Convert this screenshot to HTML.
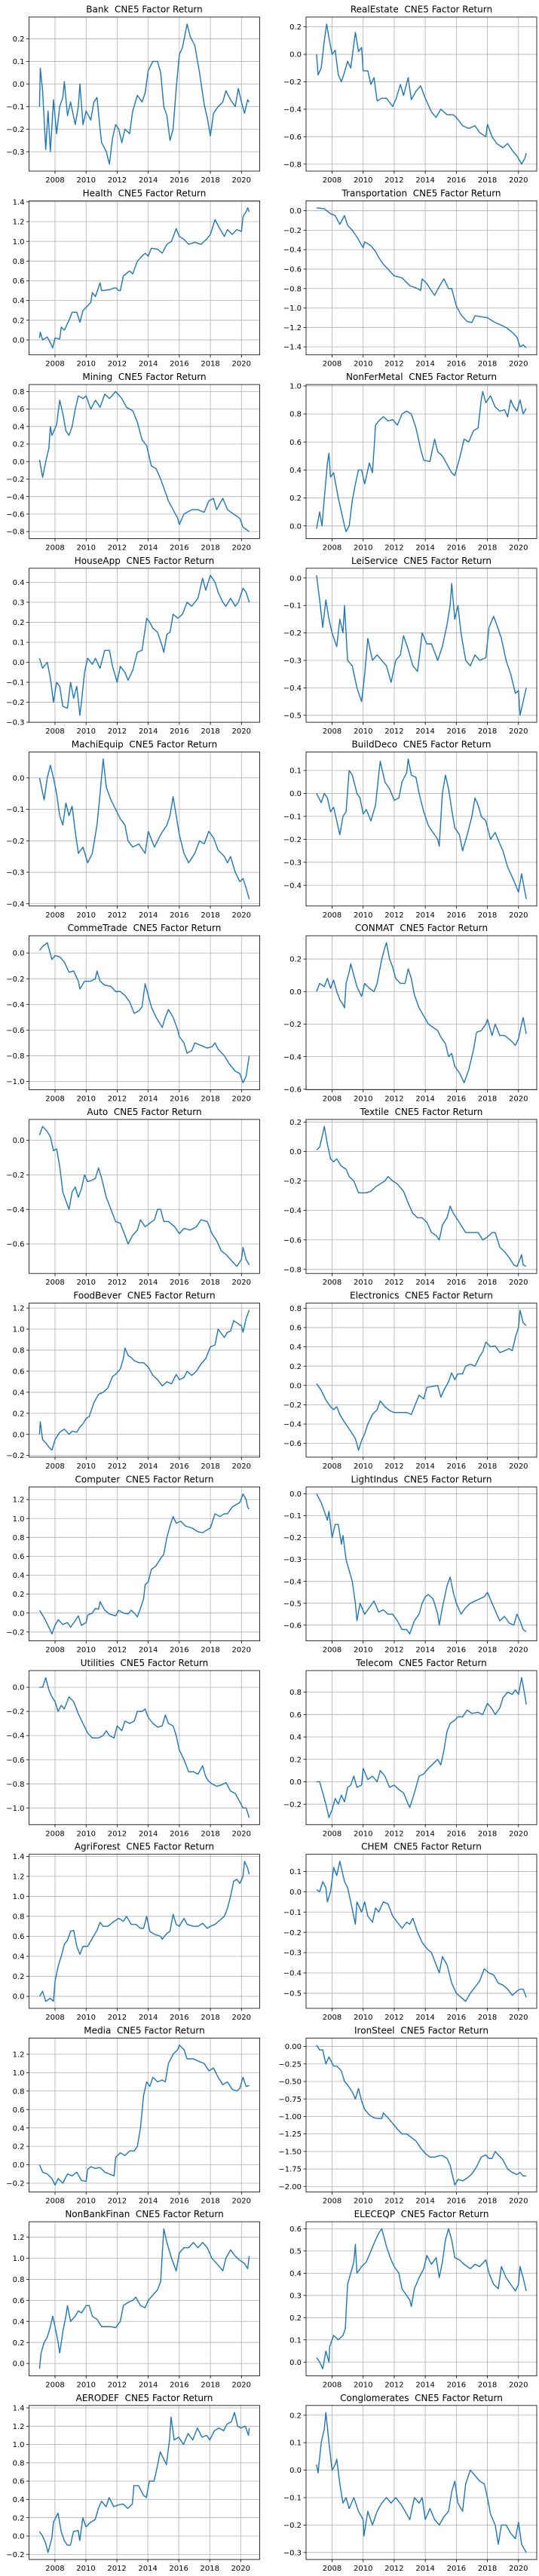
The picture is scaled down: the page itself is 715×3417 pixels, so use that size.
<!DOCTYPE html>
<html><head><meta charset="utf-8"><title>CNE5 Factor Returns</title>
<style>
html,body{margin:0;padding:0;background:#fff;}
svg{display:block;font-family:"DejaVu Sans","Liberation Sans",sans-serif;}
</style></head>
<body>
<svg id="fig" width="715" height="3417" viewBox="0 0 715 3417" xmlns="http://www.w3.org/2000/svg"></svg>
<script>
const xTickYears=[2008,2010,2012,2014,2016,2018,2020];

const bankYears=[2007,2007.05,2007.2,2007.4,2007.55,2007.7,2007.9,2008.1,2008.3,2008.5,2008.6,2008.8,2009,2009.3,2009.5,2009.6,2009.8,2010,2010.3,2010.5,2010.7,2010.9,2011,2011.3,2011.5,2011.7,2011.9,2012.1,2012.3,2012.5,2012.8,2013,2013.3,2013.6,2013.8,2014,2014.3,2014.6,2014.8,2015,2015.2,2015.4,2015.6,2015.8,2016,2016.2,2016.5,2016.7,2017,2017.3,2017.6,2017.8,2018,2018.2,2018.5,2018.8,2019,2019.3,2019.6,2019.8,2020,2020.2,2020.4,2020.5];
const bankValues=[-0.1,0.07,-0.03,-0.29,-0.12,-0.3,-0.07,-0.22,-0.1,-0.06,0.01,-0.14,-0.08,-0.18,-0.1,0.0,-0.18,-0.12,-0.16,-0.08,-0.06,-0.2,-0.26,-0.3,-0.355,-0.24,-0.18,-0.2,-0.26,-0.2,-0.22,-0.12,-0.05,-0.08,-0.04,0.06,0.1,0.1,0.05,-0.1,-0.14,-0.25,-0.2,-0.02,0.13,0.16,0.265,0.21,0.17,0.05,-0.09,-0.15,-0.23,-0.13,-0.1,-0.08,-0.03,-0.07,-0.1,-0.02,-0.08,-0.13,-0.07,-0.08];

const realEstateYears=[2007,2007.1,2007.3,2007.5,2007.65,2007.8,2008,2008.2,2008.4,2008.6,2008.8,2009,2009.2,2009.5,2009.7,2009.9,2010,2010.3,2010.5,2010.7,2010.9,2011.2,2011.5,2011.9,2012.1,2012.4,2012.6,2012.9,2013.1,2013.4,2013.7,2014,2014.4,2014.7,2015,2015.4,2015.8,2016,2016.4,2016.8,2017.2,2017.5,2017.9,2018,2018.3,2018.6,2019,2019.3,2019.6,2019.9,2020.2,2020.4,2020.5];
const realEstateValues=[0.0,-0.15,-0.1,0.1,0.22,0.12,0.0,0.03,-0.15,-0.2,-0.13,-0.05,-0.1,0.16,0.02,0.05,-0.12,-0.12,-0.22,-0.17,-0.34,-0.32,-0.32,-0.38,-0.33,-0.22,-0.3,-0.17,-0.33,-0.27,-0.23,-0.32,-0.42,-0.46,-0.4,-0.44,-0.44,-0.46,-0.52,-0.54,-0.52,-0.57,-0.6,-0.51,-0.6,-0.65,-0.68,-0.65,-0.7,-0.74,-0.8,-0.76,-0.72];

const healthYears=[2007,2007.05,2007.2,2007.5,2007.7,2007.85,2008,2008.3,2008.4,2008.6,2008.9,2009.1,2009.4,2009.6,2009.8,2010,2010.3,2010.4,2010.6,2010.9,2011,2011.5,2011.9,2012.1,2012.2,2012.4,2012.8,2013,2013.3,2013.6,2013.8,2014,2014.2,2014.6,2014.9,2015.2,2015.5,2015.8,2016,2016.3,2016.6,2017,2017.4,2017.8,2018,2018.3,2018.6,2018.9,2019.1,2019.4,2019.7,2020,2020.1,2020.3,2020.4,2020.5];
const healthValues=[0.02,0.08,0.0,0.03,-0.03,-0.08,0.02,0.01,0.13,0.1,0.2,0.28,0.28,0.18,0.3,0.33,0.38,0.48,0.44,0.58,0.5,0.51,0.53,0.5,0.5,0.65,0.7,0.67,0.8,0.85,0.88,0.85,0.93,0.92,0.88,0.97,1.0,1.13,1.05,1.02,0.97,0.99,0.97,1.03,1.07,1.22,1.13,1.05,1.12,1.07,1.12,1.1,1.25,1.3,1.34,1.3];

const transportYears=[2007,2007.5,2007.9,2008.2,2008.5,2008.8,2009,2009.3,2009.6,2010,2010.1,2010.5,2010.8,2011,2011.3,2011.6,2012,2012.5,2013,2013.5,2013.7,2013.8,2014.1,2014.3,2014.6,2014.9,2015.2,2015.5,2015.7,2016,2016.3,2016.7,2017,2017.2,2017.6,2018,2018.5,2018.8,2019.2,2019.6,2019.9,2020.1,2020.3,2020.5];
const transportValues=[0.03,0.02,-0.03,-0.05,-0.14,-0.05,-0.15,-0.2,-0.27,-0.38,-0.32,-0.36,-0.42,-0.48,-0.55,-0.6,-0.67,-0.69,-0.77,-0.8,-0.82,-0.7,-0.75,-0.8,-0.87,-0.78,-0.7,-0.8,-0.8,-0.98,-1.07,-1.14,-1.15,-1.08,-1.09,-1.1,-1.15,-1.17,-1.2,-1.25,-1.3,-1.4,-1.38,-1.41];

const miningYears=[2007,2007.2,2007.4,2007.6,2007.7,2007.8,2008.1,2008.3,2008.5,2008.7,2008.9,2009.1,2009.3,2009.5,2009.8,2010,2010.3,2010.6,2010.9,2011.2,2011.5,2011.9,2012.3,2012.6,2013,2013.3,2013.6,2013.9,2014.2,2014.5,2014.8,2015,2015.3,2015.6,2015.9,2016,2016.3,2016.8,2017.2,2017.6,2017.9,2018.2,2018.4,2018.8,2019.1,2019.5,2019.9,2020.1,2020.5];
const miningValues=[0.02,-0.18,0.0,0.15,0.4,0.3,0.42,0.7,0.55,0.35,0.3,0.4,0.6,0.75,0.72,0.75,0.6,0.7,0.62,0.77,0.72,0.8,0.72,0.62,0.58,0.45,0.25,0.18,-0.05,-0.08,-0.2,-0.3,-0.45,-0.55,-0.65,-0.72,-0.6,-0.55,-0.55,-0.58,-0.45,-0.42,-0.55,-0.42,-0.55,-0.6,-0.65,-0.75,-0.8];

const nonFerYears=[2007,2007.2,2007.35,2007.5,2007.7,2007.8,2007.9,2008.1,2008.4,2008.6,2008.8,2008.9,2009.1,2009.3,2009.5,2009.7,2009.9,2010.1,2010.4,2010.6,2010.8,2011,2011.3,2011.6,2011.9,2012.2,2012.5,2012.8,2013.1,2013.4,2013.7,2013.9,2014.3,2014.6,2014.8,2015.1,2015.4,2015.7,2015.9,2016.2,2016.5,2016.8,2017.1,2017.4,2017.6,2017.7,2017.9,2018.2,2018.5,2018.8,2019.1,2019.3,2019.5,2019.7,2019.9,2020.1,2020.3,2020.5];
const nonFerValues=[-0.02,0.1,0.0,0.2,0.45,0.52,0.35,0.38,0.2,0.1,0.0,-0.04,0.0,0.18,0.3,0.4,0.4,0.3,0.45,0.38,0.72,0.75,0.78,0.75,0.76,0.72,0.8,0.82,0.8,0.7,0.55,0.47,0.46,0.62,0.53,0.5,0.44,0.38,0.36,0.48,0.62,0.6,0.68,0.7,0.9,0.96,0.88,0.93,0.85,0.82,0.83,0.78,0.9,0.85,0.82,0.9,0.8,0.84];

const houseYears=[2007,2007.2,2007.5,2007.7,2007.9,2008.1,2008.3,2008.5,2008.8,2009,2009.2,2009.4,2009.6,2009.7,2009.9,2010.1,2010.4,2010.6,2010.9,2011.2,2011.5,2011.7,2012,2012.2,2012.5,2012.7,2013,2013.3,2013.6,2013.9,2014.1,2014.3,2014.6,2014.9,2015,2015.2,2015.4,2015.6,2015.9,2016.2,2016.5,2016.8,2017.2,2017.5,2017.7,2018,2018.3,2018.5,2018.8,2019,2019.3,2019.6,2019.8,2020.1,2020.3,2020.5];
const houseValues=[0.02,-0.03,0.0,-0.08,-0.2,-0.1,-0.12,-0.22,-0.23,-0.1,-0.18,-0.12,-0.265,-0.2,-0.05,0.02,-0.01,0.02,-0.03,0.06,0.06,-0.02,-0.1,-0.02,-0.05,-0.09,-0.04,0.05,0.06,0.22,0.2,0.17,0.15,0.08,0.05,0.14,0.15,0.24,0.22,0.24,0.3,0.28,0.32,0.42,0.36,0.435,0.4,0.35,0.3,0.28,0.32,0.28,0.3,0.37,0.35,0.3];

const leiYears=[2007,2007.2,2007.4,2007.6,2007.8,2008,2008.3,2008.5,2008.7,2008.8,2009,2009.3,2009.6,2009.9,2010.1,2010.3,2010.6,2010.9,2011.2,2011.5,2011.8,2012.1,2012.4,2012.6,2012.9,2013.2,2013.5,2013.8,2014.1,2014.4,2014.8,2015.1,2015.4,2015.6,2015.7,2015.9,2016.1,2016.3,2016.6,2016.9,2017.2,2017.5,2017.9,2018.1,2018.4,2018.6,2018.9,2019.2,2019.5,2019.8,2020,2020.1,2020.3,2020.5];
const leiValues=[0.01,-0.08,-0.18,-0.08,-0.15,-0.2,-0.25,-0.15,-0.2,-0.1,-0.3,-0.32,-0.4,-0.45,-0.35,-0.22,-0.3,-0.28,-0.3,-0.32,-0.38,-0.3,-0.28,-0.21,-0.26,-0.32,-0.34,-0.2,-0.24,-0.24,-0.3,-0.25,-0.17,-0.1,-0.02,-0.15,-0.1,-0.2,-0.3,-0.32,-0.28,-0.3,-0.29,-0.18,-0.14,-0.17,-0.22,-0.3,-0.35,-0.42,-0.41,-0.5,-0.45,-0.4];

const machiYears=[2007,2007.3,2007.5,2007.7,2007.9,2008.1,2008.3,2008.5,2008.7,2008.9,2009.1,2009.3,2009.5,2009.8,2010.1,2010.4,2010.7,2010.9,2011.1,2011.3,2011.6,2011.9,2012.2,2012.5,2012.7,2013,2013.4,2013.8,2014,2014.4,2014.8,2015.2,2015.4,2015.6,2015.8,2016,2016.3,2016.6,2017,2017.3,2017.6,2017.9,2018.2,2018.5,2018.9,2019.1,2019.3,2019.6,2019.9,2020.1,2020.3,2020.5];
const machiValues=[0.0,-0.07,0.0,0.04,0.0,-0.05,-0.12,-0.15,-0.08,-0.12,-0.09,-0.17,-0.24,-0.22,-0.27,-0.24,-0.15,-0.05,0.06,-0.03,-0.07,-0.1,-0.13,-0.15,-0.2,-0.22,-0.21,-0.24,-0.17,-0.22,-0.18,-0.15,-0.12,-0.06,-0.12,-0.18,-0.24,-0.27,-0.24,-0.2,-0.21,-0.17,-0.19,-0.23,-0.25,-0.27,-0.25,-0.3,-0.33,-0.32,-0.35,-0.385];

const buildYears=[2007,2007.3,2007.5,2007.7,2007.9,2008.1,2008.3,2008.5,2008.7,2008.9,2009.1,2009.3,2009.6,2009.8,2010,2010.2,2010.5,2010.8,2011,2011.1,2011.4,2011.7,2012,2012.3,2012.5,2012.8,2012.9,2013.1,2013.4,2013.6,2013.9,2014.2,2014.5,2014.8,2014.9,2015.1,2015.3,2015.5,2015.7,2015.9,2016.2,2016.4,2016.7,2017,2017.2,2017.4,2017.6,2017.9,2018.2,2018.5,2018.8,2019,2019.3,2019.7,2020,2020.2,2020.5];
const buildValues=[0.0,-0.04,0.0,-0.02,-0.08,-0.06,-0.12,-0.18,-0.1,-0.08,0.1,0.08,0.0,-0.02,-0.09,-0.07,-0.12,-0.05,0.08,0.14,0.05,0.02,-0.03,-0.02,0.05,0.09,0.15,0.08,0.07,0.0,-0.08,-0.14,-0.17,-0.2,-0.23,0.0,0.08,0.02,-0.07,-0.15,-0.18,-0.25,-0.18,-0.1,-0.02,-0.05,-0.1,-0.12,-0.2,-0.17,-0.22,-0.25,-0.32,-0.38,-0.43,-0.35,-0.46];

const commeYears=[2007,2007.2,2007.5,2007.8,2008,2008.3,2008.6,2008.9,2009.2,2009.5,2009.6,2009.9,2010.3,2010.6,2010.7,2010.9,2011.2,2011.6,2011.9,2012.2,2012.5,2012.8,2013.1,2013.4,2013.6,2013.8,2014,2014.2,2014.5,2014.8,2014.9,2015.1,2015.3,2015.6,2015.9,2016,2016.3,2016.5,2016.8,2017,2017.4,2017.8,2018.1,2018.3,2018.5,2018.9,2019.2,2019.6,2019.9,2020.1,2020.3,2020.4,2020.5];
const commeValues=[0.02,0.05,0.08,-0.05,-0.02,-0.03,-0.07,-0.15,-0.14,-0.22,-0.28,-0.22,-0.22,-0.2,-0.14,-0.22,-0.25,-0.26,-0.3,-0.3,-0.33,-0.38,-0.47,-0.45,-0.42,-0.24,-0.33,-0.42,-0.5,-0.56,-0.58,-0.5,-0.44,-0.5,-0.6,-0.65,-0.7,-0.78,-0.76,-0.7,-0.72,-0.74,-0.73,-0.7,-0.75,-0.8,-0.86,-0.92,-0.94,-1.01,-0.96,-0.88,-0.8];

const conmatYears=[2007,2007.2,2007.5,2007.7,2007.9,2008.1,2008.3,2008.5,2008.7,2008.8,2008.9,2009.1,2009.2,2009.4,2009.6,2009.9,2010.1,2010.4,2010.7,2010.9,2011,2011.2,2011.4,2011.5,2011.7,2011.9,2012.1,2012.4,2012.7,2012.9,2013.1,2013.3,2013.6,2013.9,2014.2,2014.5,2014.8,2015,2015.3,2015.5,2015.7,2015.9,2016.2,2016.5,2016.8,2017.1,2017.3,2017.6,2017.9,2018,2018.3,2018.5,2018.8,2019.1,2019.5,2019.8,2020,2020.2,2020.3,2020.5];
const conmatValues=[0.0,0.05,0.03,0.08,0.02,0.07,0.0,-0.05,-0.08,-0.1,0.05,0.12,0.17,0.1,0.03,-0.03,0.05,0.02,0.0,0.05,0.1,0.2,0.27,0.3,0.2,0.15,0.08,0.05,0.05,0.14,0.08,-0.02,-0.1,-0.15,-0.2,-0.22,-0.24,-0.28,-0.32,-0.4,-0.38,-0.46,-0.5,-0.56,-0.48,-0.36,-0.25,-0.24,-0.2,-0.17,-0.27,-0.2,-0.27,-0.27,-0.3,-0.33,-0.29,-0.2,-0.16,-0.26];

const autoYears=[2007,2007.2,2007.5,2007.7,2007.9,2008.1,2008.3,2008.5,2008.7,2008.9,2009.1,2009.3,2009.5,2009.7,2009.9,2010.1,2010.4,2010.6,2010.8,2011,2011.3,2011.6,2011.9,2012.2,2012.5,2012.7,2013,2013.3,2013.5,2013.8,2014.1,2014.4,2014.6,2014.8,2015,2015.3,2015.7,2016,2016.3,2016.7,2017.1,2017.4,2017.8,2018.1,2018.4,2018.7,2019,2019.4,2019.7,2020,2020.1,2020.3,2020.5];
const autoValues=[0.03,0.08,0.05,0.02,-0.06,-0.05,-0.15,-0.3,-0.35,-0.4,-0.3,-0.27,-0.33,-0.28,-0.2,-0.24,-0.23,-0.22,-0.16,-0.22,-0.33,-0.4,-0.47,-0.48,-0.55,-0.6,-0.55,-0.52,-0.46,-0.5,-0.48,-0.46,-0.4,-0.4,-0.47,-0.47,-0.5,-0.54,-0.51,-0.52,-0.5,-0.46,-0.47,-0.54,-0.58,-0.64,-0.66,-0.7,-0.73,-0.69,-0.62,-0.69,-0.72];

const textileYears=[2007,2007.2,2007.4,2007.5,2007.7,2007.9,2008.1,2008.3,2008.6,2008.9,2009.1,2009.4,2009.7,2009.9,2010.2,2010.5,2010.8,2011.1,2011.4,2011.6,2011.9,2012.2,2012.6,2012.9,2013.2,2013.5,2013.8,2014.1,2014.4,2014.7,2014.9,2015.1,2015.4,2015.6,2015.8,2016,2016.3,2016.6,2017,2017.4,2017.7,2018,2018.3,2018.5,2018.8,2019.1,2019.4,2019.7,2019.9,2020.1,2020.2,2020.3,2020.5];
const textileValues=[0.01,0.03,0.12,0.17,0.05,-0.05,-0.07,-0.05,-0.1,-0.12,-0.17,-0.2,-0.28,-0.28,-0.28,-0.27,-0.24,-0.22,-0.2,-0.17,-0.2,-0.22,-0.27,-0.35,-0.42,-0.45,-0.45,-0.48,-0.55,-0.57,-0.6,-0.5,-0.45,-0.37,-0.42,-0.45,-0.5,-0.55,-0.55,-0.55,-0.6,-0.58,-0.55,-0.55,-0.65,-0.68,-0.72,-0.77,-0.78,-0.73,-0.7,-0.77,-0.78];

const foodYears=[2007,2007.05,2007.2,2007.4,2007.6,2007.8,2008,2008.3,2008.6,2008.9,2009.1,2009.4,2009.6,2009.8,2010,2010.2,2010.5,2010.8,2011.1,2011.4,2011.7,2011.9,2012.2,2012.4,2012.5,2012.7,2012.9,2013.1,2013.4,2013.7,2014,2014.3,2014.6,2014.9,2015.2,2015.5,2015.8,2016,2016.3,2016.5,2016.8,2017.1,2017.4,2017.7,2018,2018.3,2018.5,2018.7,2018.9,2019.1,2019.3,2019.5,2019.8,2020,2020.1,2020.3,2020.5];
const foodValues=[0.0,0.12,-0.05,-0.08,-0.12,-0.15,-0.05,0.02,0.05,0.0,0.03,0.02,0.07,0.1,0.15,0.17,0.3,0.38,0.4,0.44,0.55,0.57,0.62,0.72,0.82,0.75,0.73,0.7,0.68,0.68,0.64,0.56,0.52,0.46,0.5,0.48,0.57,0.52,0.54,0.6,0.56,0.6,0.67,0.72,0.83,0.85,1.0,0.96,0.92,0.97,0.98,1.08,1.05,1.03,0.97,1.1,1.18];

const elecYears=[2007,2007.3,2007.6,2007.9,2008.1,2008.3,2008.5,2008.8,2009.1,2009.3,2009.5,2009.7,2009.9,2010.1,2010.3,2010.6,2010.9,2011.1,2011.4,2011.7,2012,2012.4,2012.8,2013.1,2013.4,2013.6,2013.9,2014.1,2014.5,2014.8,2015,2015.2,2015.5,2015.7,2015.9,2016.1,2016.4,2016.6,2016.9,2017.2,2017.5,2017.7,2017.9,2018.2,2018.5,2018.8,2019.1,2019.4,2019.6,2019.8,2020,2020.1,2020.3,2020.5];
const elecValues=[0.02,-0.05,-0.15,-0.22,-0.25,-0.22,-0.3,-0.38,-0.45,-0.5,-0.55,-0.67,-0.57,-0.5,-0.4,-0.3,-0.25,-0.16,-0.22,-0.26,-0.28,-0.28,-0.28,-0.3,-0.18,-0.1,-0.14,-0.02,-0.01,0.0,-0.12,-0.05,0.04,0.13,0.06,0.12,0.12,0.2,0.22,0.2,0.3,0.35,0.45,0.4,0.41,0.34,0.36,0.38,0.36,0.5,0.6,0.78,0.65,0.62];

const computerYears=[2007,2007.3,2007.6,2007.8,2008,2008.2,2008.5,2008.8,2009,2009.3,2009.5,2009.7,2010,2010.1,2010.4,2010.6,2010.8,2010.9,2011.2,2011.5,2011.9,2012.1,2012.4,2012.7,2012.9,2013.1,2013.3,2013.5,2013.7,2013.8,2014,2014.2,2014.5,2014.8,2015,2015.2,2015.4,2015.6,2015.8,2016.1,2016.4,2016.8,2017.2,2017.5,2017.8,2018,2018.3,2018.6,2018.9,2019.1,2019.4,2019.7,2019.9,2020.1,2020.3,2020.4,2020.5];
const computerValues=[0.03,-0.05,-0.15,-0.22,-0.13,-0.07,-0.12,-0.1,-0.15,-0.08,-0.03,-0.13,-0.1,-0.02,0.0,0.05,0.04,0.12,0.03,-0.01,-0.03,0.03,0.0,-0.01,0.03,0.0,-0.04,0.05,0.15,0.3,0.33,0.46,0.5,0.58,0.62,0.8,0.92,1.02,0.95,0.97,0.92,0.9,0.86,0.85,0.88,0.9,1.05,1.02,1.05,1.05,1.12,1.15,1.17,1.26,1.2,1.12,1.1];

const lightYears=[2007,2007.3,2007.5,2007.7,2007.8,2008,2008.2,2008.4,2008.6,2008.7,2008.9,2009.1,2009.3,2009.5,2009.6,2009.8,2010.1,2010.4,2010.7,2011,2011.3,2011.6,2011.9,2012.2,2012.5,2012.8,2013,2013.3,2013.6,2013.8,2014,2014.2,2014.5,2014.8,2014.9,2015.1,2015.4,2015.6,2015.8,2016,2016.3,2016.6,2016.9,2017.2,2017.5,2017.8,2018,2018.3,2018.6,2018.8,2019.1,2019.4,2019.7,2019.9,2020.1,2020.3,2020.5];
const lightValues=[0.0,-0.04,-0.08,-0.12,-0.08,-0.2,-0.14,-0.14,-0.23,-0.19,-0.3,-0.35,-0.4,-0.5,-0.58,-0.5,-0.55,-0.52,-0.49,-0.54,-0.53,-0.55,-0.55,-0.58,-0.62,-0.62,-0.64,-0.58,-0.55,-0.5,-0.47,-0.46,-0.48,-0.55,-0.6,-0.52,-0.42,-0.38,-0.45,-0.5,-0.55,-0.52,-0.5,-0.49,-0.48,-0.47,-0.45,-0.5,-0.55,-0.58,-0.56,-0.59,-0.6,-0.55,-0.58,-0.62,-0.63];

const utilYears=[2007,2007.2,2007.4,2007.6,2007.8,2008,2008.2,2008.4,2008.6,2008.9,2009.2,2009.5,2009.8,2010.1,2010.4,2010.8,2011.1,2011.3,2011.5,2011.8,2012,2012.3,2012.5,2012.8,2013.1,2013.3,2013.6,2013.8,2014,2014.3,2014.6,2014.9,2015.1,2015.3,2015.6,2015.8,2016,2016.3,2016.6,2016.9,2017.2,2017.5,2017.7,2017.9,2018.1,2018.4,2018.7,2019,2019.3,2019.6,2019.9,2020.1,2020.3,2020.5];
const utilValues=[0.0,0.0,0.08,-0.02,-0.08,-0.12,-0.2,-0.15,-0.18,-0.08,-0.12,-0.22,-0.3,-0.38,-0.42,-0.42,-0.4,-0.36,-0.4,-0.42,-0.32,-0.36,-0.28,-0.3,-0.28,-0.2,-0.2,-0.18,-0.25,-0.3,-0.33,-0.32,-0.23,-0.3,-0.32,-0.4,-0.52,-0.6,-0.7,-0.7,-0.72,-0.65,-0.74,-0.78,-0.8,-0.82,-0.81,-0.79,-0.86,-0.88,-0.95,-1.0,-1.0,-1.08];

const telecomYears=[2007,2007.2,2007.4,2007.6,2007.8,2008,2008.2,2008.4,2008.6,2008.8,2009,2009.2,2009.4,2009.6,2009.9,2010,2010.3,2010.6,2010.9,2011.1,2011.4,2011.7,2012,2012.3,2012.6,2012.9,2013,2013.3,2013.6,2013.9,2014.2,2014.5,2014.8,2015,2015.2,2015.4,2015.6,2015.9,2016.1,2016.4,2016.7,2017,2017.4,2017.7,2018,2018.3,2018.5,2018.8,2019,2019.3,2019.6,2019.8,2020,2020.2,2020.4,2020.5];
const telecomValues=[0.0,0.0,-0.1,-0.2,-0.32,-0.25,-0.15,-0.2,-0.12,-0.18,-0.05,-0.03,0.05,-0.05,-0.03,0.12,0.02,0.05,0.0,0.1,0.05,-0.05,-0.03,-0.07,-0.1,-0.2,-0.23,-0.1,0.05,0.07,0.12,0.16,0.2,0.15,0.28,0.45,0.52,0.55,0.58,0.58,0.64,0.61,0.62,0.6,0.7,0.65,0.6,0.66,0.75,0.8,0.78,0.82,0.78,0.93,0.78,0.69];

const agriYears=[2007,2007.2,2007.4,2007.7,2007.9,2008,2008.2,2008.4,2008.6,2008.8,2009,2009.2,2009.4,2009.6,2009.8,2010.1,2010.4,2010.7,2010.9,2011.1,2011.4,2011.8,2012.1,2012.4,2012.6,2012.9,2013.2,2013.5,2013.7,2013.9,2014.1,2014.4,2014.8,2014.9,2015.2,2015.4,2015.6,2015.8,2016,2016.3,2016.5,2016.9,2017.2,2017.5,2017.8,2018,2018.3,2018.6,2018.9,2019.1,2019.3,2019.5,2019.7,2019.9,2020.1,2020.2,2020.4,2020.5];
const agriValues=[0.0,0.05,-0.05,-0.02,-0.05,0.15,0.3,0.4,0.52,0.56,0.65,0.66,0.5,0.42,0.5,0.5,0.58,0.66,0.74,0.7,0.7,0.75,0.78,0.75,0.8,0.72,0.72,0.68,0.68,0.8,0.65,0.62,0.6,0.57,0.63,0.65,0.82,0.72,0.7,0.78,0.72,0.7,0.7,0.73,0.68,0.7,0.72,0.76,0.8,0.88,1.0,1.15,1.17,1.13,1.2,1.35,1.28,1.22];

const chemYears=[2007,2007.2,2007.4,2007.6,2007.7,2007.9,2008.1,2008.3,2008.5,2008.8,2009,2009.2,2009.5,2009.6,2009.9,2010.1,2010.3,2010.6,2010.8,2011,2011.3,2011.6,2011.9,2012.2,2012.5,2012.8,2013,2013.2,2013.5,2013.8,2014.1,2014.4,2014.7,2014.9,2015.1,2015.4,2015.7,2016,2016.3,2016.6,2016.9,2017.2,2017.5,2017.8,2018.1,2018.4,2018.7,2019,2019.3,2019.6,2019.9,2020.1,2020.3,2020.5];
const chemValues=[0.01,0.0,0.05,0.02,-0.05,0.0,0.12,0.08,0.15,0.05,0.02,-0.05,-0.16,-0.05,-0.1,-0.05,-0.12,-0.15,-0.08,-0.1,-0.05,-0.06,-0.12,-0.15,-0.18,-0.15,-0.16,-0.13,-0.2,-0.25,-0.28,-0.3,-0.36,-0.4,-0.32,-0.36,-0.45,-0.5,-0.52,-0.54,-0.5,-0.47,-0.44,-0.38,-0.4,-0.41,-0.45,-0.46,-0.48,-0.51,-0.49,-0.48,-0.48,-0.52];

const mediaYears=[2007,2007.2,2007.5,2007.8,2008,2008.2,2008.5,2008.8,2009.1,2009.4,2009.7,2010,2010.1,2010.3,2010.6,2010.9,2011.2,2011.5,2011.8,2011.9,2012.2,2012.5,2012.8,2013.1,2013.3,2013.5,2013.7,2013.9,2014.1,2014.3,2014.6,2014.9,2015.1,2015.3,2015.6,2015.9,2016,2016.3,2016.5,2016.9,2017.3,2017.6,2017.9,2018.2,2018.5,2018.8,2019.1,2019.4,2019.7,2019.9,2020.1,2020.3,2020.5];
const mediaValues=[0.0,-0.08,-0.1,-0.15,-0.22,-0.15,-0.2,-0.1,-0.12,-0.08,-0.17,-0.18,-0.05,-0.02,-0.04,-0.03,-0.08,-0.1,-0.12,0.08,0.13,0.1,0.15,0.15,0.2,0.4,0.75,0.9,0.85,0.95,0.9,0.92,0.9,1.1,1.2,1.25,1.3,1.25,1.15,1.15,1.12,1.1,1.02,1.05,0.95,0.87,0.9,0.82,0.8,0.83,0.95,0.85,0.86];

const ironYears=[2007,2007.2,2007.4,2007.6,2007.8,2008.1,2008.3,2008.6,2008.8,2009,2009.3,2009.5,2009.7,2009.9,2010.1,2010.4,2010.7,2011,2011.2,2011.3,2011.6,2011.9,2012.2,2012.5,2012.8,2013.1,2013.4,2013.7,2014,2014.3,2014.6,2014.9,2015.1,2015.4,2015.6,2015.9,2016.1,2016.4,2016.7,2017,2017.3,2017.6,2017.9,2018.1,2018.3,2018.5,2018.7,2019,2019.3,2019.6,2019.9,2020.1,2020.3,2020.5];
const ironValues=[0.02,-0.05,-0.05,-0.25,-0.15,-0.28,-0.28,-0.35,-0.5,-0.55,-0.65,-0.75,-0.6,-0.78,-0.9,-0.98,-1.02,-1.03,-1.03,-0.95,-1.02,-1.1,-1.18,-1.25,-1.25,-1.3,-1.35,-1.45,-1.53,-1.58,-1.58,-1.56,-1.56,-1.6,-1.7,-1.98,-1.9,-1.92,-1.88,-1.82,-1.72,-1.58,-1.55,-1.6,-1.6,-1.5,-1.55,-1.62,-1.75,-1.8,-1.83,-1.8,-1.85,-1.85];

const nonBankYears=[2007,2007.1,2007.3,2007.5,2007.7,2007.85,2008,2008.2,2008.3,2008.5,2008.7,2008.8,2009,2009.3,2009.5,2009.7,2010,2010.2,2010.4,2010.7,2011,2011.3,2011.6,2011.9,2012.2,2012.4,2012.7,2013,2013.2,2013.5,2013.8,2014,2014.3,2014.6,2014.8,2015,2015.2,2015.5,2015.8,2016,2016.3,2016.6,2016.9,2017.2,2017.5,2017.8,2018.1,2018.4,2018.7,2018.8,2019,2019.3,2019.6,2019.9,2020.2,2020.4,2020.5];
const nonBankValues=[-0.05,0.1,0.2,0.25,0.35,0.45,0.35,0.2,0.1,0.3,0.45,0.55,0.4,0.45,0.5,0.48,0.55,0.55,0.45,0.42,0.35,0.35,0.35,0.34,0.4,0.55,0.58,0.6,0.63,0.55,0.53,0.6,0.65,0.7,0.78,1.28,1.15,1.0,0.88,1.05,1.1,1.1,1.15,1.1,1.15,1.1,1.0,0.95,0.9,0.88,1.0,1.08,1.02,0.98,0.95,0.9,1.02];

const eleceqpYears=[2007,2007.2,2007.4,2007.6,2007.8,2007.85,2008.1,2008.4,2008.7,2008.85,2009,2009.2,2009.4,2009.5,2009.6,2009.9,2010.2,2010.5,2010.8,2011,2011.2,2011.5,2011.8,2012,2012.3,2012.5,2012.8,2013,2013.1,2013.3,2013.6,2013.9,2014.1,2014.4,2014.7,2014.9,2015.1,2015.3,2015.5,2015.7,2015.9,2016.2,2016.5,2016.9,2017.2,2017.5,2017.9,2018.1,2018.4,2018.7,2018.9,2019.2,2019.5,2019.8,2020,2020.1,2020.3,2020.5];
const eleceqpValues=[0.02,0.0,-0.03,0.05,0.0,0.07,0.12,0.1,0.12,0.15,0.35,0.4,0.45,0.53,0.4,0.43,0.45,0.5,0.55,0.58,0.6,0.52,0.46,0.43,0.4,0.33,0.3,0.28,0.25,0.33,0.38,0.42,0.48,0.44,0.47,0.38,0.45,0.55,0.6,0.55,0.47,0.46,0.44,0.42,0.44,0.43,0.46,0.4,0.35,0.33,0.43,0.38,0.35,0.32,0.35,0.43,0.38,0.32];

const aeroYears=[2007,2007.2,2007.4,2007.55,2007.8,2007.9,2008.1,2008.2,2008.4,2008.6,2008.8,2009,2009.2,2009.5,2009.6,2009.8,2010,2010.3,2010.6,2010.8,2011,2011.3,2011.5,2011.8,2012.1,2012.4,2012.7,2013,2013.1,2013.4,2013.7,2013.9,2014.1,2014.4,2014.6,2014.8,2015,2015.2,2015.4,2015.5,2015.7,2016,2016.3,2016.6,2016.9,2017.2,2017.5,2017.8,2018,2018.3,2018.6,2018.9,2019.1,2019.4,2019.6,2019.8,2020,2020.3,2020.5,2020.55];
const aeroValues=[0.05,0.0,-0.08,-0.18,-0.02,0.15,0.22,0.25,0.05,-0.05,-0.1,-0.1,0.05,0.06,-0.05,0.2,0.1,0.15,0.18,0.3,0.38,0.32,0.42,0.32,0.34,0.35,0.3,0.35,0.55,0.55,0.45,0.42,0.6,0.6,0.75,0.92,0.85,0.78,1.05,1.3,1.05,1.08,1.0,1.12,1.05,1.18,1.08,1.1,1.05,1.15,1.18,1.15,1.22,1.25,1.35,1.2,1.18,1.2,1.1,1.18];

const congloYears=[2007,2007.1,2007.3,2007.5,2007.6,2007.8,2008,2008.2,2008.3,2008.5,2008.7,2008.9,2009.1,2009.4,2009.7,2010,2010.05,2010.3,2010.6,2010.9,2011.2,2011.5,2011.8,2012.1,2012.5,2012.8,2013,2013.3,2013.6,2013.8,2014,2014.3,2014.6,2014.9,2015.2,2015.5,2015.7,2015.9,2016.1,2016.4,2016.6,2016.9,2017.2,2017.5,2017.8,2018,2018.2,2018.5,2018.7,2018.9,2019.2,2019.5,2019.8,2020,2020.2,2020.5];
const congloValues=[0.02,-0.01,0.1,0.15,0.21,0.1,0.0,0.02,0.04,-0.05,-0.12,-0.1,-0.14,-0.1,-0.15,-0.18,-0.24,-0.15,-0.2,-0.15,-0.12,-0.1,-0.12,-0.1,-0.13,-0.16,-0.18,-0.1,-0.12,-0.1,-0.18,-0.14,-0.18,-0.2,-0.17,-0.15,-0.08,-0.04,-0.12,-0.15,-0.05,0.0,-0.02,-0.04,-0.05,-0.1,-0.16,-0.2,-0.27,-0.2,-0.2,-0.23,-0.25,-0.19,-0.27,-0.3];

const panelNames=["Bank","RealEstate","Health","Transportation","Mining","NonFerMetal","HouseApp","LeiService","MachiEquip","BuildDeco","CommeTrade","CONMAT","Auto","Textile","FoodBever","Electronics","Computer","LightIndus","Utilities","Telecom","AgriForest","CHEM","Media","IronSteel","NonBankFinan","ELECEQP","AERODEF","Conglomerates"];
const panelYears=[bankYears,realEstateYears,healthYears,transportYears,miningYears,nonFerYears,houseYears,leiYears,machiYears,buildYears,commeYears,conmatYears,autoYears,textileYears,foodYears,elecYears,computerYears,lightYears,utilYears,telecomYears,agriYears,chemYears,mediaYears,ironYears,nonBankYears,eleceqpYears,aeroYears,congloYears];
const panelValues=[bankValues,realEstateValues,healthValues,transportValues,miningValues,nonFerValues,houseValues,leiValues,machiValues,buildValues,commeValues,conmatValues,autoValues,textileValues,foodValues,elecValues,computerValues,lightValues,utilValues,telecomValues,agriValues,chemValues,mediaValues,ironValues,nonBankValues,eleceqpValues,aeroValues,congloValues];
const panelTickSteps=[0.1,0.2,0.2,0.2,0.2,0.2,0.1,0.1,0.1,0.1,0.2,0.2,0.2,0.2,0.2,0.2,0.2,0.1,0.2,0.2,0.2,0.1,0.2,0.25,0.2,0.1,0.2,0.1];

const NS="http://www.w3.org/2000/svg";
const svg=document.getElementById("fig");
const AX_LEFT=[38.5,406], AX_W=306, TOP0=22.7, PITCH=243.7, AX_H=204.3;
function mk(tag,attrs,parent){const e=document.createElementNS(NS,tag);for(const k in attrs)e.setAttribute(k,attrs[k]);(parent||svg).appendChild(e);return e;}
function fmt(v,step){const d=step<0.1?2:(Math.abs(step*10-Math.round(step*10))>1e-9?2:1);let s=Math.abs(v)<1e-9?(0).toFixed(d):v.toFixed(d);return s.replace("-","\u2212");}

panelNames.forEach((name,i)=>{
  const col=i%2,row=Math.floor(i/2);
  const L=AX_LEFT[col],T=TOP0+row*PITCH;
  const yrs=panelYears[i],vals=panelValues[i],step=panelTickSteps[i];
  const xmin0=Math.min(...yrs),xmax0=Math.max(...yrs),xm=(xmax0-xmin0)*0.05;
  const XMIN=xmin0-xm,XMAX=xmax0+xm;
  const vmin=Math.min(...vals),vmax=Math.max(...vals),ym=(vmax-vmin)*0.05;
  const YMIN=vmin-ym,YMAX=vmax+ym;
  const xs=y=>L+(y-XMIN)/(XMAX-XMIN)*AX_W;
  const ys=v=>T+(YMAX-v)/(YMAX-YMIN)*AX_H;
  const g=mk("g",{});
  
  
  const title=mk("text",{x:L+AX_W/2,y:T-6,"text-anchor":"middle","font-size":"12",fill:"#000"},g);
  title.textContent=name+"\u00a0 CNE5 Factor Return";
  
  
  const grid=mk("g",{stroke:"#b0b0b0","stroke-width":"0.8"},g);
  
  
  xTickYears.forEach(yr=>{
    const x=xs(yr);
    mk("line",{x1:x,x2:x,y1:T,y2:T+AX_H},grid);
    const tk=mk("line",{x1:x,x2:x,y1:T+AX_H,y2:T+AX_H+3.5,stroke:"#000","stroke-width":"0.8"},g);
    
    
    const lb=mk("text",{x:x,y:T+AX_H+15,"text-anchor":"middle","font-size":"10",fill:"#000"},g);
    lb.textContent=String(yr);
    
    
  });
  const k0=Math.ceil(YMIN/step-1e-9),k1=Math.floor(YMAX/step+1e-9);
  for(let k=k0;k<=k1;k++){
    const v=k*step,y=ys(v);
    mk("line",{x1:L,x2:L+AX_W,y1:y,y2:y},grid);
    const tk=mk("line",{x1:L-3.5,x2:L,y1:y,y2:y,stroke:"#000","stroke-width":"0.8"},g);
    
    
    const lb=mk("text",{x:L-6,y:y+3.6,"text-anchor":"end","font-size":"10",fill:"#000"},g);
    lb.textContent=fmt(v,step);
    
    
  }
  const pts=yrs.map((yr,j)=>xs(yr).toFixed(2)+","+ys(vals[j]).toFixed(2)).join(" ");
  const line=mk("polyline",{points:pts,fill:"none",stroke:"#1f77b4","stroke-width":"1.4","stroke-linejoin":"round"},g);
  
  
  const frame=mk("rect",{x:L,y:T,width:AX_W,height:AX_H,fill:"none",stroke:"#000","stroke-width":"0.8"},g);
  
  
});
</script>
</body></html>
